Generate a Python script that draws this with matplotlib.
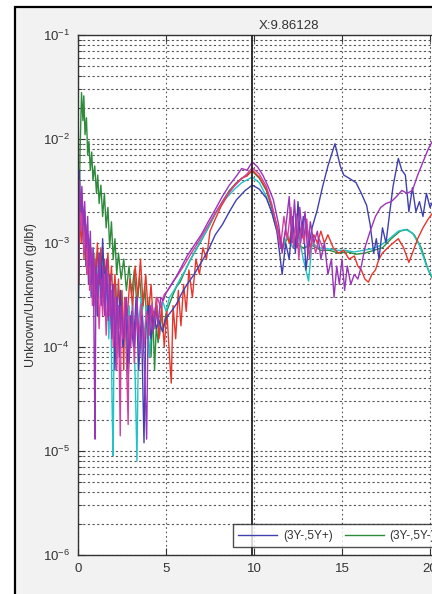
import numpy as np
import matplotlib.pyplot as plt
from matplotlib.patches import Rectangle
from matplotlib.ticker import LogLocator, NullFormatter

plt.rcParams['font.family'] = ['Liberation Sans', 'DejaVu Sans']
plt.rcParams['mathtext.default'] = 'regular'

# frequency / response values
blue_x = [0.03, 0.08, 0.15, 0.22, 0.3, 0.38, 0.45, 0.52, 0.6, 0.68, 0.75, 0.82, 0.9, 1.0, 1.1, 1.2, 1.3,
          1.4, 1.5, 1.6, 1.7, 1.8, 1.9, 2.0, 2.1, 2.2, 2.3, 2.4, 2.55, 2.7, 2.85, 3.0, 3.15, 3.3, 3.45,
          3.6, 3.75, 3.85, 4.0, 4.15, 4.3, 4.45, 4.6, 4.8, 5.0, 5.3, 5.6, 5.9, 6.2, 6.6, 7.0, 7.4, 7.8,
          8.2, 8.6, 9.0, 9.5, 9.9, 10.3, 10.7, 11.0, 11.3, 11.6, 11.8, 12.0, 12.2, 12.35, 12.5, 12.65,
          12.8, 12.95, 13.1, 13.3, 13.6, 13.9, 14.2, 14.6, 14.9, 15.1, 15.4, 15.8, 16.1, 16.4, 16.6,
          16.8, 16.95, 17.1, 17.3, 17.5, 17.7, 17.9, 18.2, 18.4, 18.6, 18.8, 19.0, 19.2, 19.4, 19.6,
          19.8, 20.0, 20.3]
blue_y = [3e-4, 5e-3, 1.5e-3, 3e-3, 1e-3, 2e-3, 6e-4, 1.2e-3, 4e-4, 9e-4, 3e-4, 7e-4, 2.5e-4, 6e-4,
          2e-4, 8e-4, 3e-4, 1.1e-3, 4e-4, 6e-4, 2e-4, 5e-4, 1.5e-4, 4e-4, 6e-5, 3e-4, 1.5e-4, 3.5e-4,
          1e-4, 2.5e-4, 5e-5, 2e-4, 1e-4, 3e-4, 6e-5, 2e-4, 1.2e-5, 1.5e-4, 2.5e-4, 1.2e-4, 2.2e-4,
          1.5e-4, 1.8e-4, 1.4e-4, 1.9e-4, 2.2e-4, 2.6e-4, 3.3e-4, 4e-4, 5e-4, 6.5e-4, 8.5e-4, 1.2e-3,
          1.5e-3, 2e-3, 2.6e-3, 3.2e-3, 3.6e-3, 3.3e-3, 2.7e-3, 2e-3, 1.3e-3, 5e-4, 1e-3, 7e-4, 1.8e-3,
          8e-4, 2.5e-3, 1e-3, 1.8e-3, 5.5e-4, 9e-4, 1.4e-3, 2.1e-3, 3.5e-3, 5.5e-3, 9e-3, 5.5e-3,
          4.5e-3, 4.2e-3, 3.8e-3, 3e-3, 2.3e-3, 1.5e-3, 8e-4, 1.1e-3, 7e-4, 1.4e-3, 1e-3, 1.9e-3,
          3.5e-3, 6.5e-3, 5e-3, 4.5e-3, 2e-3, 3.4e-3, 2e-3, 2.5e-3, 1.8e-3, 3e-3, 2.2e-3, 2.8e-3]

green_x = [0.05, 0.12, 0.2, 0.28, 0.33, 0.4, 0.48, 0.55, 0.62, 0.7, 0.78, 0.85, 0.95, 1.05, 1.12, 1.2,
           1.3, 1.4, 1.5, 1.6, 1.7, 1.8, 1.9, 2.0, 2.1, 2.2, 2.3, 2.45, 2.6, 2.75, 2.9, 3.05, 3.2, 3.35,
           3.5, 3.65, 3.8, 3.95, 4.05, 4.15, 4.25, 4.35, 4.45, 4.55, 4.7, 4.85, 5.0, 5.2, 5.4, 5.6, 5.8,
           6.0, 6.3, 6.6, 7.0, 7.4, 7.8, 8.2, 8.6, 9.0, 9.4, 9.9, 10.3, 10.7, 11.0, 11.3, 11.6, 11.9,
           12.3, 12.8, 13.3, 13.8, 14.3, 14.8, 15.3, 15.8, 16.3, 16.8, 17.3, 17.8, 18.3, 18.7, 19.1,
           19.5, 19.9, 20.3]
green_y = [1.2e-3, 8e-3, 2.8e-2, 1.5e-2, 2.6e-2, 1.1e-2, 1.6e-2, 7e-3, 9.5e-3, 5e-3, 7.5e-3, 4e-3,
           5.5e-3, 3e-3, 4.5e-3, 2.4e-3, 3.6e-3, 1.8e-3, 3e-3, 1.4e-3, 2.2e-3, 9e-4, 1.6e-3, 7e-4,
           1.1e-3, 5e-4, 8e-4, 4.5e-4, 7e-4, 3.5e-4, 6e-4, 3.2e-4, 5.5e-4, 2.5e-4, 4.8e-4, 2.2e-4,
           3.8e-4, 1.2e-4, 3e-4, 8e-5, 2.2e-4, 6e-5, 1.6e-4, 1.1e-4, 2e-4, 1.5e-4, 2.1e-4, 2.6e-4,
           3.2e-4, 3.8e-4, 4.2e-4, 5e-4, 6.5e-4, 8e-4, 1.05e-3, 1.4e-3, 1.9e-3, 2.5e-3, 3.2e-3,
           3.8e-3, 4.3e-3, 4.9e-3, 4.2e-3, 3.2e-3, 2.2e-3, 1.4e-3, 9e-4, 1.1e-3, 1e-3, 9e-4, 9.5e-4,
           8.5e-4, 8.5e-4, 8e-4, 8.2e-4, 7.8e-4, 8e-4, 8.5e-4, 9e-4, 1.1e-3, 1.3e-3, 1.35e-3, 1.2e-3,
           9e-4, 5.5e-4, 4e-4]

red_x = [0.05, 0.1, 0.18, 0.26, 0.34, 0.42, 0.5, 0.58, 0.66, 0.74, 0.82, 0.9, 1.0, 1.1, 1.2, 1.3, 1.4,
         1.5, 1.6, 1.7, 1.8, 1.9, 2.0, 2.1, 2.2, 2.3, 2.4, 2.5, 2.6, 2.65, 2.8, 2.95, 3.1, 3.25, 3.4,
         3.55, 3.7, 3.85, 4.0, 4.15, 4.3, 4.45, 4.6, 4.75, 4.9, 5.05, 5.2, 5.3, 5.4, 5.55, 5.7, 5.85,
         6.0, 6.15, 6.3, 6.5, 6.7, 6.9, 7.1, 7.3, 7.5, 7.8, 8.1, 8.5, 8.9, 9.3, 9.6, 9.9, 10.3, 10.7,
         11.0, 11.3, 11.6, 11.8, 12.0, 12.2, 12.4, 12.6, 12.8, 13.0, 13.2, 13.4, 13.6, 13.8, 14.0,
         14.2, 14.5, 14.8, 15.1, 15.4, 15.7, 15.9, 16.1, 16.3, 16.5, 16.7, 16.9, 17.1, 17.3, 17.6,
         17.9, 18.2, 18.5, 18.8, 19.0, 19.3, 19.6, 19.9, 20.2]
red_y = [4e-4, 2.5e-3, 1e-3, 2e-3, 7e-4, 1.5e-3, 5e-4, 1.1e-3, 4e-4, 9e-4, 3e-4, 8e-4, 3.5e-4, 1e-3,
         4e-4, 9e-4, 3e-4, 7e-4, 4e-4, 8e-4, 3e-4, 6e-4, 2.5e-4, 5e-4, 2e-4, 4.5e-4, 1.5e-4, 3.5e-4,
         6e-5, 3e-4, 2e-4, 4.5e-4, 2.5e-4, 6e-4, 3e-4, 7e-4, 2.5e-4, 5e-4, 2e-4, 4e-4, 1.5e-4, 3e-4,
         1.2e-4, 2.5e-4, 1e-4, 2.2e-4, 8e-5, 4.5e-5, 2.5e-4, 1.2e-4, 3.5e-4, 1.6e-4, 4e-4, 2.2e-4,
         5.5e-4, 3e-4, 7e-4, 5e-4, 9e-4, 7e-4, 1.3e-3, 1.7e-3, 2.2e-3, 2.9e-3, 3.6e-3, 4.2e-3,
         4.4e-3, 5e-3, 4.3e-3, 3.3e-3, 2.3e-3, 1.5e-3, 9e-4, 1.3e-3, 1e-3, 1.6e-3, 9e-4, 1.4e-3,
         1.1e-3, 1.5e-3, 9e-4, 1.2e-3, 1e-3, 1.3e-3, 1e-3, 1.2e-3, 9e-4, 8e-4, 8.5e-4, 7e-4, 7.5e-4,
         6e-4, 5.5e-4, 4.5e-4, 4.2e-4, 5e-4, 5.5e-4, 7e-4, 8e-4, 9e-4, 1e-3, 1.1e-3, 9e-4, 6.5e-4,
         8e-4, 1.1e-3, 1.4e-3, 1.7e-3, 2e-3]

cyan_x = [0.02, 0.06, 0.15, 0.25, 0.35, 0.45, 0.55, 0.65, 0.75, 0.85, 0.95, 1.05, 1.15, 1.25, 1.35,
          1.45, 1.55, 1.65, 1.75, 1.85, 1.95, 2.0, 2.05, 2.15, 2.3, 2.45, 2.6, 2.7, 2.8, 2.9, 3.0, 3.1,
          3.25, 3.35, 3.45, 3.6, 3.75, 3.9, 4.05, 4.2, 4.35, 4.5, 4.65, 4.8, 5.0, 5.2, 5.5, 5.8, 6.1,
          6.5, 6.9, 7.3, 7.7, 8.1, 8.5, 8.9, 9.3, 9.9, 10.3, 10.7, 11.0, 11.3, 11.6, 11.9, 12.2, 12.5,
          12.8, 13.1, 13.3, 13.7, 14.2, 14.7, 15.2, 15.7, 16.2, 16.7, 17.2, 17.7, 18.2, 18.6, 19.0,
          19.4, 19.8, 20.2]
cyan_y = [1e-4, 3e-3, 1.2e-3, 2e-3, 8e-4, 1.5e-3, 6e-4, 1.1e-3, 4e-4, 9e-4, 5e-4, 8e-4, 2.5e-4, 6e-4,
          3e-4, 7e-4, 2e-4, 5e-4, 1.2e-4, 4e-4, 2e-5, 9e-6, 1.5e-4, 4e-4, 1.5e-4, 3.5e-4, 1e-4, 3e-4,
          6e-5, 2.5e-4, 1.2e-4, 3e-4, 5e-5, 8e-6, 1.8e-4, 3e-4, 1.2e-4, 2.5e-4, 8e-5, 2e-4, 1.5e-4,
          2.5e-4, 1.3e-4, 2.8e-4, 2.2e-4, 3e-4, 3.6e-4, 4.5e-4, 5.5e-4, 7.5e-4, 1e-3, 1.3e-3, 1.8e-3,
          2.3e-3, 2.8e-3, 3.3e-3, 3.8e-3, 4.3e-3, 3.8e-3, 2.8e-3, 2e-3, 1.3e-3, 8.5e-4, 1.2e-3, 9e-4,
          1.3e-3, 7e-4, 4.3e-4, 1e-3, 9e-4, 8.8e-4, 8.5e-4, 8.5e-4, 8.2e-4, 8.5e-4, 8.8e-4, 9.5e-4,
          1.1e-3, 1.3e-3, 1.35e-3, 1.25e-3, 9.5e-4, 6e-4, 4.5e-4]

purple_x = [0.03, 0.08, 0.15, 0.22, 0.3, 0.38, 0.46, 0.55, 0.62, 0.7, 0.78, 0.86, 0.93, 0.97, 1.02,
            1.12, 1.22, 1.32, 1.42, 1.52, 1.62, 1.72, 1.82, 1.92, 2.02, 2.12, 2.22, 2.35, 2.45, 2.6,
            2.75, 2.9, 3.05, 3.2, 3.35, 3.5, 3.65, 3.8, 3.9, 3.98, 4.1, 4.25, 4.4, 4.55, 4.7, 4.85, 5.0,
            5.3, 5.6, 5.9, 6.2, 6.6, 7.0, 7.4, 7.8, 8.2, 8.6, 9.0, 9.3, 9.6, 9.9, 10.2, 10.5, 10.8,
            11.1, 11.4, 11.6, 11.8, 12.0, 12.15, 12.3, 12.45, 12.6, 12.75, 12.9, 13.05, 13.2, 13.4,
            13.6, 13.8, 14.0, 14.2, 14.4, 14.55, 14.7, 14.85, 15.0, 15.15, 15.3, 15.5, 15.7, 15.9,
            16.1, 16.3, 16.6, 16.9, 17.2, 17.5, 17.8, 18.1, 18.4, 18.7, 19.0, 19.3, 19.6, 19.9, 20.2]
purple_y = [5e-4, 4e-3, 2e-3, 3.5e-3, 1.5e-3, 2.5e-3, 9e-4, 1.8e-3, 6e-4, 1.3e-3, 4e-4, 9e-4, 6e-5,
            1.3e-5, 7e-4, 3e-4, 8e-4, 2.5e-4, 6e-4, 2e-4, 7e-4, 1.8e-4, 5e-4, 1.2e-4, 4e-4, 1e-4,
            3e-4, 8e-5, 2.5e-4, 1.2e-4, 3e-4, 7e-5, 2.2e-4, 1e-4, 3e-4, 8e-5, 2e-4, 5e-5, 1.3e-5,
            1.5e-4, 2.5e-4, 1.4e-4, 2.4e-4, 1.6e-4, 3e-4, 2.8e-4, 3.3e-4, 4e-4, 4.8e-4, 6e-4, 7.5e-4,
            9.5e-4, 1.2e-3, 1.6e-3, 2.1e-3, 2.8e-3, 3.6e-3, 4.4e-3, 5.2e-3, 5e-3, 6e-3, 5.4e-3,
            4.5e-3, 3.5e-3, 2.6e-3, 1.5e-3, 8e-4, 1.4e-3, 2.8e-3, 1e-3, 2.6e-3, 9e-4, 2.2e-3, 1.2e-3,
            2e-3, 8e-4, 1.6e-3, 1e-3, 1.3e-3, 7e-4, 1e-3, 5e-4, 7e-4, 3e-4, 6e-4, 4e-4, 7e-4, 3.5e-4,
            6e-4, 4e-4, 5e-4, 4.5e-4, 6e-4, 9e-4, 1.3e-3, 1.8e-3, 2.2e-3, 2.4e-3, 2.5e-3, 2.8e-3,
            3.2e-3, 3e-3, 3.2e-3, 4.5e-3, 6e-3, 8e-3, 1e-2]

pink_x = [0.04, 0.1, 0.18, 0.26, 0.34, 0.42, 0.5, 0.58, 0.66, 0.74, 0.82, 0.9, 1.0, 1.1, 1.2, 1.3, 1.4,
          1.5, 1.6, 1.7, 1.8, 1.9, 2.0, 2.1, 2.2, 2.3, 2.4, 2.45, 2.55, 2.65, 2.75, 2.85, 2.9, 3.0,
          3.1, 3.2, 3.3, 3.45, 3.6, 3.75, 3.9, 4.05, 4.2, 4.35, 4.5, 4.7, 4.9, 5.1, 5.4, 5.7, 6.0, 6.4,
          6.8, 7.2, 7.6, 8.0, 8.4, 8.8, 9.2, 9.6, 9.9, 10.3, 10.7, 11.0, 11.3, 11.5, 11.7, 11.9, 12.1,
          12.25, 12.4, 12.55, 12.7, 12.85, 13.0, 13.15, 13.3, 13.5, 13.7, 13.9]
pink_y = [6e-4, 3e-3, 1.3e-3, 2.2e-3, 8e-4, 1.6e-3, 5e-4, 1.2e-3, 3.5e-4, 8e-4, 2.5e-4, 6e-4, 2e-4,
          5e-4, 1.5e-4, 4.5e-4, 2e-4, 5e-4, 1.3e-4, 4e-4, 2e-4, 3.5e-4, 1e-4, 3e-4, 6e-5, 2.5e-4,
          1.4e-5, 2e-4, 1.2e-4, 2.8e-4, 8e-5, 1.8e-5, 2e-4, 1e-4, 2.5e-4, 7e-5, 2e-4, 1.2e-4, 2.6e-4,
          1e-4, 2.2e-4, 1.3e-4, 2.6e-4, 1.8e-4, 3e-4, 2.4e-4, 3.2e-4, 3.5e-4, 4.2e-4, 5e-4, 6e-4,
          7.8e-4, 1e-3, 1.3e-3, 1.7e-3, 2.2e-3, 2.8e-3, 3.4e-3, 4e-3, 4.6e-3, 5.3e-3, 4.6e-3, 3.5e-3,
          2.4e-3, 1.4e-3, 9e-4, 1.8e-3, 1.1e-3, 2.2e-3, 9e-4, 1.9e-3, 7e-4, 1.5e-3, 1e-3, 1.7e-3,
          7e-4, 1.2e-3, 8e-4, 1.1e-3, 9e-4]

labels = ['(3Y-,5Y+)', '(3Y-,5Y-)', '(3Y+,5Y+)', '(3Y+,5Y-)', '(5Y-,3Y+)', '(5Y+,3Y-)']
cursor_x = 9.86128

fig = plt.figure(figsize=(4.32, 5.94), dpi=100)
fig.patch.set_facecolor('white')

# grey panel with the black frame of the original window
fig.add_artist(Rectangle((15 / 432, -0.01), 1.0, (594 - 7) / 594 + 0.01, transform=fig.transFigure,
                         facecolor='#f2f2f2', edgecolor='black', linewidth=1.6, zorder=0))

ax = fig.add_axes([78 / 432, 39 / 594, 440 / 432, 520 / 594])
ax.set_facecolor('white')

lw = 1.0
l_green, = ax.plot(green_x, green_y, color='#2e8b3c', lw=lw)
l_cyan, = ax.plot(cyan_x, cyan_y, color='#22c3c8', lw=lw)
l_red, = ax.plot(red_x, red_y, color='#e8352c', lw=lw)
l_blue, = ax.plot(blue_x, blue_y, color='#4040b0', lw=lw)
l_pink, = ax.plot(pink_x, pink_y, color='#d4409e', lw=lw)
l_purple, = ax.plot(purple_x, purple_y, color='#9a35b8', lw=lw)

# data cursor line
ax.axvline(cursor_x, color='#222222', lw=1.3, zorder=4)

ax.set_yscale('log')
ax.set_ylim(1e-6, 1e-1)
ax.set_xlim(0, 25)
ax.set_xticks([0, 5, 10, 15, 20, 25])
ax.yaxis.set_major_locator(LogLocator(base=10, numticks=10))
ax.yaxis.set_minor_locator(LogLocator(base=10, subs=np.arange(2, 10), numticks=20))
ax.yaxis.set_minor_formatter(NullFormatter())

ax.grid(True, which='both', axis='y', color='#555555', linestyle=(0, (2, 2.2)), linewidth=0.8)
ax.grid(True, which='major', axis='x', color='#555555', linestyle=(0, (1.5, 2.5)), linewidth=0.8)
ax.set_axisbelow(True)

ax.tick_params(which='both', direction='in', top=True, right=True, colors='#333333',
               labelsize=9.5, pad=6)
ax.tick_params(which='major', length=5)
ax.tick_params(which='minor', length=3)
for s in ax.spines.values():
    s.set_color('#333333')
    s.set_linewidth(1.0)

ax.set_ylabel('Unknown/Unknown (g/lbf)', fontsize=9, color='#333333', labelpad=4)

ax.text(259 / 432, 1 - 26 / 594, 'X:9.86128', transform=fig.transFigure, fontsize=9.5,
        color='#333333', va='center', ha='left')

leg = ax.legend([l_blue, l_green, l_red, l_cyan, l_purple, l_pink], labels, ncol=6,
                loc='lower left', bbox_to_anchor=(155 / 440, 8 / 520), fontsize=8.5,
                frameon=True, fancybox=False, handlelength=3.3, handletextpad=0.5,
                columnspacing=1.0, borderpad=0.45, borderaxespad=0)
leg.get_frame().set_edgecolor('#222222')
leg.get_frame().set_linewidth(1.0)
leg.set_zorder(10)
for t in leg.get_texts():
    t.set_color('#333333')

plt.savefig('out.png', dpi=100)
